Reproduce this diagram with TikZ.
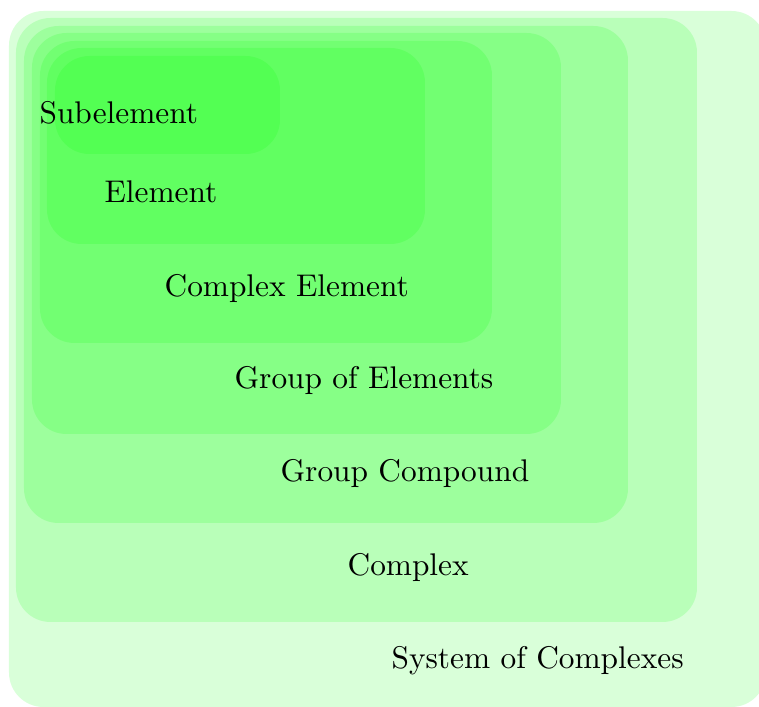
\documentclass[tikz,border=0pt]{standalone}
\begin{document}
\begin{tikzpicture}[x=0.319pt,y=-0.319pt,
	layer/.style={fill=green,fill opacity=0.15,rounded corners=11pt},
	lbl/.style={anchor=base west,inner sep=0pt}]
	\useasboundingbox (0,0) rectangle (759,707);
	
	%boxes, outside to inside
	\fill[layer] (9,11) rectangle (766,707); %system of complexes
	\fill[layer] (16,18) rectangle (697,622); %complex
	\fill[layer] (24,26) rectangle (628,523); %group compound
	\fill[layer] (32,33) rectangle (561,434); %group of elements
	\fill[layer] (40,41) rectangle (492,343); %complex element
	\fill[layer] (47,48) rectangle (425,244); %element
	\fill[layer] (55,56) rectangle (280,154); %subelement
	
	%labels
	\node[lbl] (sub) at (39,124) {Subelement}; %subelement label
	\node[lbl] (elem) at (104,203) {Element}; %element label
	\node[lbl] (cplxelem) at (164,297) {Complex Element}; %complex element label
	\node[lbl] (grpelem) at (234,389) {Group of Elements}; %group of elements label
	\node[lbl] (grpcomp) at (280,482) {Group Compound}; %group compound label
	\node[lbl] (cplx) at (347,576) {Complex}; %complex label
	\node[lbl] (system) at (391,669) {System of Complexes}; %system label
\end{tikzpicture}
\end{document}
